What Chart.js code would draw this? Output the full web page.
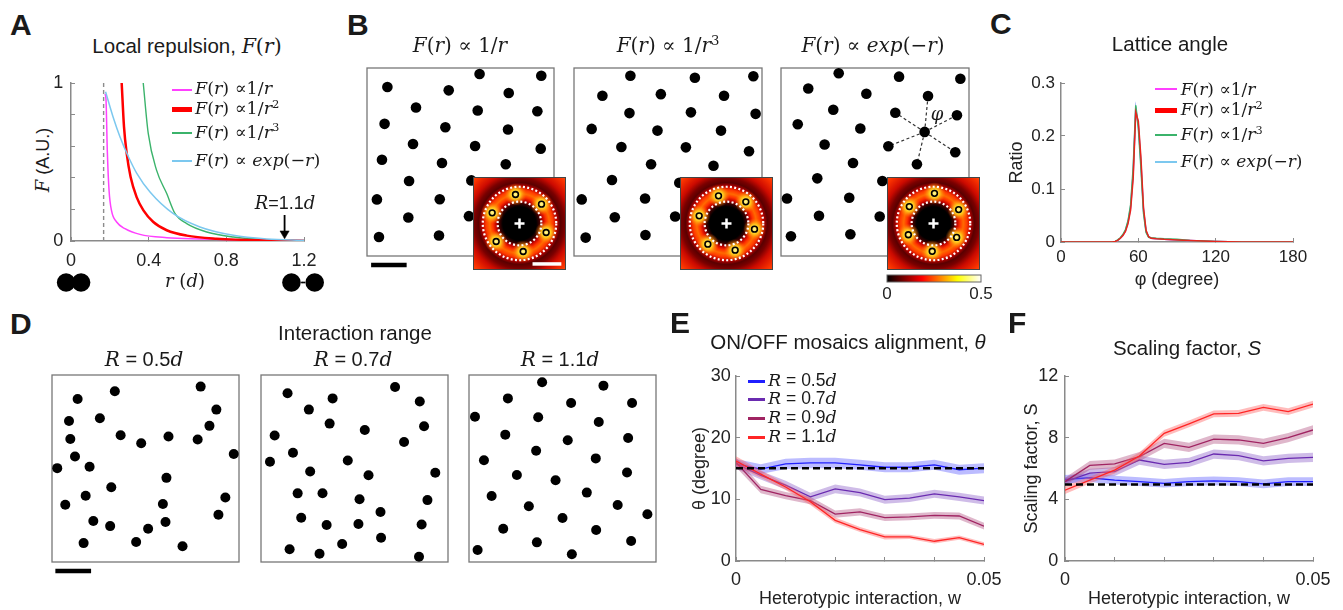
<!DOCTYPE html>
<html><head><meta charset="utf-8">
<script src="https://cdn.jsdelivr.net/npm/chart.js@4/dist/chart.umd.min.js"></script>
<style>
html,body{margin:0;padding:0;background:#fff;overflow:hidden;}
#fig{position:relative;width:1343px;height:610px;overflow:hidden;font-family:'Liberation Sans',Arial,sans-serif;color:#1a1a1a;}
.t{position:absolute;line-height:1;white-space:nowrap;}
.m{font-family:'DejaVu Serif',serif;font-style:normal;}
i.m,.m i{font-style:italic;}
.sp{font-size:0.66em;position:relative;top:-0.55em;}
.ls{position:absolute;}
canvas{position:absolute;}
</style></head><body><div id="fig"></div>
<script>
// ================= DATA =================
// Panel A: local repulsion curves F(r)
const aMagR = [0.175,0.180,0.187,0.196,0.209,0.235,0.278,0.355,0.493,0.664,0.922,1.2];
const aMagF = [0.93,0.90,0.57,0.32,0.19,0.12,0.078,0.042,0.021,0.013,0.006,0.002];
const aRedR = [0.261,0.273,0.287,0.307,0.338,0.373,0.424,0.493,0.596,0.750,1.008,1.2];
const aRedF = [1.0,0.722,0.553,0.405,0.278,0.194,0.120,0.068,0.034,0.015,0.004,0.002];
const aGrnR = [0.372,0.398,0.441,0.493,0.536,0.596,0.699,0.836,1.008,1.2];
const aGrnF = [1.0,0.679,0.447,0.300,0.173,0.110,0.057,0.025,0.008,0.002];
const aCyaR = [0.178,0.218,0.252,0.295,0.338,0.407,0.527,0.664,0.836,1.008,1.2];
const aCyaF = [0.945,0.78,0.66,0.535,0.43,0.31,0.173,0.089,0.036,0.013,0.004];
const aCoreR = 0.168;        // dashed line (cell body)
const aRangeR = 1.1;         // interaction range R
const aXTicks = [0,0.4,0.8,1.2], aXLabels = ['0','0.4','0.8','1.2'];
const aYTicks = [0,0.2,0.4,0.6,0.8,1], aYLabels = ['0','','','','','1'];
const aIconX = [-0.027,0.050,1.137,1.257];
const aIconGapX = [1.192,1.202];

// Panel B: cell positions (box units 0..1)
const b1X = [0.109,0.602,0.932,0.437,0.758,0.262,0.592,0.911,0.094,0.419,0.754,0.246,0.578,0.929,0.080,0.401,0.742,0.225,0.558,0.053,0.389,0.221,0.545,0.064,0.385];
const b1Y = [0.899,0.968,0.959,0.881,0.867,0.790,0.774,0.770,0.703,0.685,0.673,0.596,0.585,0.571,0.512,0.495,0.488,0.399,0.402,0.301,0.302,0.205,0.212,0.101,0.109];
const b2X = [0.300,0.643,0.954,0.151,0.462,0.798,0.295,0.622,0.966,0.094,0.444,0.782,0.252,0.595,0.931,0.410,0.742,0.202,0.560,0.041,0.378,0.217,0.538,0.062,0.380];
const b2Y = [0.959,0.948,0.956,0.852,0.861,0.852,0.760,0.764,0.756,0.676,0.667,0.667,0.580,0.578,0.557,0.488,0.480,0.404,0.390,0.301,0.306,0.206,0.210,0.098,0.112];
const b3X = [0.307,0.628,0.954,0.145,0.454,0.782,0.278,0.608,0.936,0.089,0.422,0.764,0.232,0.571,0.927,0.383,0.723,0.193,0.539,0.032,0.363,0.202,0.525,0.053,0.369];
const b3Y = [0.972,0.954,0.943,0.891,0.863,0.851,0.778,0.762,0.749,0.701,0.678,0.660,0.593,0.584,0.552,0.495,0.488,0.413,0.399,0.306,0.310,0.214,0.210,0.105,0.116];
const b3StarC = [0.764,0.660];
const b3StarX = [0.782,0.608,0.936,0.571,0.927,0.723];
const b3StarY = [0.851,0.762,0.749,0.584,0.552,0.488];
// autocorrelation insets: peak positions (inset units -1..1)
const i1X = [-0.086,0.473,0.573,0.079,-0.502,-0.588], i1Y = [0.624,0.416,-0.194,-0.602,-0.387,0.229];
const i2X = [-0.172,0.416,0.602,0.186,-0.401,-0.588], i2Y = [0.595,0.466,-0.122,-0.573,-0.444,0.165];
const i3X = [0.021,0.541,0.498,-0.028,-0.541,-0.520], i3Y = [0.648,0.299,-0.299,-0.598,-0.242,0.363];
const ringIn = 0.47, ringOut = 0.79;
const cbarTicks = [0,0.5], cbarLabels = ['0','0.5'];

// Panel C: lattice angle distribution
const cPhi = [0,20,40,42,44,46,48,50,52,54,56,58,60,62,64,66,68,70,74,80,90,100,110,120,140,160,180];
const cMag = [0,0,0,0.001,0.003,0.007,0.012,0.021,0.037,0.065,0.13,0.25,0.22,0.15,0.06,0.02,0.01,0.007,0.006,0.005,0.004,0.003,0.002,0.001,0,0,0];
const cRed = [0,0,0,0.001,0.003,0.007,0.012,0.020,0.035,0.060,0.12,0.245,0.228,0.16,0.065,0.022,0.010,0.007,0.006,0.005,0.004,0.003,0.002,0.001,0,0,0];
const cGrn = [0,0,0,0.001,0.004,0.008,0.014,0.023,0.040,0.070,0.14,0.258,0.215,0.14,0.055,0.018,0.009,0.008,0.007,0.006,0.005,0.003,0.002,0.001,0,0,0];
const cCya = [0,0,0,0.001,0.003,0.007,0.013,0.022,0.038,0.066,0.13,0.252,0.222,0.15,0.06,0.02,0.010,0.007,0.006,0.005,0.004,0.003,0.002,0.001,0,0,0];
const cXTicks = [0,60,120,180], cXLabels = ['0','60','120','180'];
const cYTicks = [0,0.1,0.2,0.3], cYLabels = ['0','0.1','0.2','0.3'];

// Panel D: cell positions for interaction ranges
const d1X = [0.336,0.795,0.137,0.879,0.091,0.256,0.842,0.098,0.367,0.477,0.623,0.779,0.972,0.123,0.028,0.201,0.612,0.317,0.180,0.927,0.071,0.593,0.890,0.221,0.311,0.514,0.607,0.169,0.450,0.698];
const d1Y = [0.913,0.938,0.872,0.815,0.754,0.769,0.728,0.658,0.678,0.635,0.671,0.655,0.578,0.564,0.502,0.509,0.450,0.400,0.354,0.345,0.306,0.310,0.253,0.219,0.192,0.178,0.214,0.101,0.107,0.084];
const d2X = [0.142,0.383,0.717,0.256,0.849,0.367,0.555,0.872,0.073,0.765,0.171,0.048,0.464,0.263,0.575,0.932,0.196,0.329,0.527,0.890,0.639,0.215,0.351,0.521,0.859,0.434,0.642,0.153,0.313,0.845];
const d2Y = [0.902,0.875,0.936,0.815,0.858,0.740,0.706,0.726,0.676,0.642,0.584,0.536,0.543,0.484,0.464,0.477,0.367,0.368,0.336,0.331,0.267,0.237,0.198,0.203,0.201,0.096,0.130,0.068,0.044,0.028];
const d3X = [0.391,0.719,0.208,0.546,0.872,0.032,0.370,0.694,0.194,0.528,0.851,0.359,0.080,0.678,0.256,0.463,0.845,0.630,0.121,0.320,0.795,0.954,0.500,0.183,0.680,0.363,0.867,0.046,0.550];
const d3Y = [0.961,0.943,0.875,0.850,0.850,0.777,0.774,0.749,0.681,0.651,0.663,0.595,0.544,0.554,0.465,0.437,0.479,0.371,0.353,0.298,0.305,0.255,0.235,0.178,0.171,0.105,0.112,0.064,0.041];

// Panels E/F: heterotypic interaction sweep
const wVals = [0,0.005,0.01,0.015,0.02,0.025,0.03,0.035,0.04,0.045,0.05];
const eTheta05 = [15.75,14.9,15.75,15.9,15.9,15.6,15.2,15.2,15.6,14.8,15.05];
const eTheta07 = [15.75,13.9,12.3,10.4,11.7,11.1,9.95,10.2,10.9,10.4,9.8];
const eTheta09 = [16.0,11.6,10.6,9.8,7.6,7.96,7.04,7.15,7.4,7.3,5.65];
const eTheta11 = [16.2,14.1,12.0,9.6,6.6,5.1,3.9,3.9,3.2,3.8,2.7];
const eErr05 = [0.8,0.8,0.85,0.85,0.85,0.8,0.8,0.8,0.8,0.8,0.8];
const eErr07 = [0.8,0.7,0.7,0.65,0.7,0.65,0.65,0.65,0.65,0.65,0.65];
const eErr09 = [0.8,0.6,0.6,0.6,0.6,0.6,0.55,0.55,0.55,0.55,0.55];
const eErr11 = [0.8,0.6,0.5,0.5,0.45,0.4,0.4,0.35,0.35,0.35,0.35];
const eRandom = 15.05;
const fS05 = [5.3,5.4,5.25,5.15,5.04,5.15,5.2,5.15,5.0,5.15,5.15];
const fS07 = [5.15,5.7,5.8,6.55,6.27,6.4,6.94,6.83,6.5,6.66,6.72];
const fS09 = [5.15,6.2,6.3,6.77,7.63,7.37,7.9,7.85,7.63,8.0,8.5];
const fS11 = [4.6,5.25,5.9,6.81,8.28,8.89,9.54,9.58,9.97,9.69,10.18];
const fErr05 = [0.28,0.28,0.28,0.28,0.28,0.28,0.28,0.28,0.28,0.28,0.28];
const fErr07 = [0.25,0.28,0.28,0.3,0.3,0.3,0.3,0.3,0.3,0.3,0.3];
const fErr09 = [0.25,0.28,0.28,0.3,0.3,0.3,0.3,0.3,0.3,0.3,0.3];
const fErr11 = [0.25,0.22,0.22,0.22,0.22,0.22,0.22,0.22,0.22,0.22,0.22];
const fRandom = 4.97;
const wTicks = [0,0.01,0.02,0.03,0.04,0.05], wLabels = ['0','','','','','0.05'];
const eYTicks = [0,10,20,30], eYLabels = ['0','10','20','30'];
const fYTicks = [0,4,8,12], fYLabels = ['0','4','8','12'];
const rangeNames = ['0.5','0.7','0.9','1.1'];

// ================= HELPERS =================
Chart.defaults.font.family = "'Liberation Sans', Arial, sans-serif";
Chart.defaults.color = '#222';
const fig = document.getElementById('fig');
const zip = (xs, ys) => xs.map((x, i) => ({x, y: ys[i]}));
const AX = '#8a8a8a';

function canvasAt(p, m, z) {
  const c = document.createElement('canvas');
  const w = Math.round(p.r - p.l + m.l + m.r), h = Math.round(p.b - p.t + m.t + m.b);
  c.width = w; c.height = h;
  c.style.cssText = `left:${p.l - m.l}px;top:${p.t - m.t}px;width:${w}px;height:${h}px;z-index:${z || 1}`;
  fig.appendChild(c);
  return c;
}
function zeroPad(s){ s.paddingLeft = s.paddingRight = s.paddingTop = s.paddingBottom = 0; }
function axis(kind, o) {
  return {
    type: 'linear', min: o.min, max: o.max,
    afterBuildTicks: s => { s.ticks = o.ticks.map(v => ({value: v})); },
    afterFit: s => { if (kind === 'x') s.height = o.size; else s.width = o.size; zeroPad(s); },
    grid: {display: true, drawOnChartArea: false, drawTicks: o.tl !== 0, tickLength: o.tl === undefined ? -4 : o.tl, color: AX, lineWidth: 1},
    border: {display: o.border !== false, color: AX, width: 1.5},
    ticks: {autoSkip: false, maxRotation: 0, minRotation: 0, padding: o.pad, color: '#222', font: {size: o.fs || 18},
            callback: (v, i) => o.labels[i]},
    title: o.title ? {display: true, text: o.title, color: '#222', font: {size: 18}, padding: 0} : {display: false}
  };
}
function baseOpts(pad, scales, plugins) {
  return {responsive: false, animation: false, devicePixelRatio: 1, layout: {padding: pad, autoPadding: false},
    elements: {point: {radius: 0}, line: {tension: 0}},
    plugins: Object.assign({legend: {display: false}, tooltip: {enabled: false}}, plugins || {}),
    scales};
}
function txt(html, x, base, fs, o) {
  o = o || {};
  const d = document.createElement('div');
  d.className = 't';
  d.innerHTML = html;
  d.style.fontSize = fs + 'px';
  d.style.top = (base - 0.846 * fs) + 'px';
  d.style.left = x + 'px';
  if (o.center) d.style.transform = 'translateX(-50%)';
  if (o.bold) d.style.fontWeight = 'bold';
  d.style.zIndex = 6;
  fig.appendChild(d);
}
function vtxt(html, cx, cy, fs) {
  const d = document.createElement('div');
  d.className = 't'; d.innerHTML = html; d.style.fontSize = fs + 'px';
  d.style.left = cx + 'px'; d.style.top = cy + 'px';
  d.style.transform = 'translate(-50%,-50%) rotate(-90deg)';
  fig.appendChild(d);
}
function legend(rows, x0, x1, tx, fs) {
  rows.forEach(r => {
    const s = document.createElement('div');
    s.className = 'ls';
    s.style.cssText = `left:${Math.round(x0)}px;width:${Math.round(x1 - x0)}px;top:${Math.round(r.y - r.w / 2)}px;height:${r.w}px;background:${r.c};z-index:6`;
    fig.appendChild(s);
    txt(r.html, tx, r.y + 0.33 * fs, fs);
  });
}

// ----- plugins -----
const framePlugin = {
  id: 'frame',
  beforeDatasetsDraw(chart, a, o) {
    const {ctx, chartArea: c, scales: {x}} = chart;
    ctx.save();
    ctx.strokeStyle = '#777'; ctx.lineWidth = 1.3;
    ctx.strokeRect(c.left, c.top, c.width, c.height);
    if (o && o.bar) {
      const yy = c.bottom + o.bar.dy;
      ctx.strokeStyle = '#000'; ctx.lineWidth = o.bar.w;
      ctx.beginPath();
      ctx.moveTo(x.getPixelForValue(o.bar.x0), yy); ctx.lineTo(x.getPixelForValue(o.bar.x1), yy);
      ctx.stroke();
    }
    ctx.restore();
  }
};
const HEAT = [[0,'#000000'],[0.36,'#000000'],[0.43,'#3a0000'],[0.5,'#c00000'],[0.57,'#ff3000'],[0.64,'#ff6a00'],[0.72,'#ff3a00'],[0.8,'#b80000'],[0.88,'#5a0000'],[0.97,'#7a0000'],[1.1,'#cc0a00'],[1.3,'#f83000'],[1.45,'#ff5a10']];
const heatPlugin = {
  id: 'heat',
  beforeDatasetsDraw(chart, a, o) {
    const {ctx, chartArea: c, scales: {x, y}} = chart;
    const cx = x.getPixelForValue(0), cy = y.getPixelForValue(0);
    const u = x.getPixelForValue(1) - cx;
    ctx.save();
    ctx.beginPath(); ctx.rect(c.left, c.top, c.width, c.height); ctx.clip();
    const g = ctx.createRadialGradient(cx, cy, 0, cx, cy, 1.45 * u);
    HEAT.forEach(([r, col]) => g.addColorStop(r / 1.45, col));
    ctx.fillStyle = g; ctx.fillRect(c.left, c.top, c.width, c.height);
    o.px.forEach((px, i) => {
      const X = x.getPixelForValue(px), Y = y.getPixelForValue(o.py[i]), R = 0.24 * u;
      const rg = ctx.createRadialGradient(X, Y, 0, X, Y, R);
      rg.addColorStop(0, 'rgba(255,252,150,1)'); rg.addColorStop(0.45, 'rgba(255,215,30,0.85)'); rg.addColorStop(1, 'rgba(255,120,0,0)');
      ctx.fillStyle = rg; ctx.fillRect(X - R, Y - R, 2 * R, 2 * R);
    });
    ctx.strokeStyle = '#fff'; ctx.lineWidth = 2.2; ctx.setLineDash([2, 2.3]);
    [o.rIn, o.rOut].forEach(r => { ctx.beginPath(); ctx.arc(cx, cy, r * u, 0, Math.PI * 2); ctx.stroke(); });
    ctx.setLineDash([]);
    if (o.bar) {
      ctx.strokeStyle = '#fff'; ctx.lineWidth = 3.5; ctx.beginPath();
      ctx.moveTo(x.getPixelForValue(o.bar.x0), y.getPixelForValue(o.bar.y));
      ctx.lineTo(x.getPixelForValue(o.bar.x1), y.getPixelForValue(o.bar.y)); ctx.stroke();
    }
    ctx.restore();
  },
  afterDraw(chart) {
    const {ctx, chartArea: c} = chart;
    ctx.save(); ctx.strokeStyle = '#444'; ctx.lineWidth = 1;
    ctx.strokeRect(c.left + 0.5, c.top + 0.5, c.width - 1, c.height - 1); ctx.restore();
  }
};
const cbarPlugin = {
  id: 'cbar',
  beforeDatasetsDraw(chart) {
    const {ctx, chartArea: c} = chart;
    const g = ctx.createLinearGradient(c.left, 0, c.right, 0);
    [[0,'#000000'],[0.375,'#ff0000'],[0.75,'#ffff00'],[1,'#ffffff']].forEach(([t, col]) => g.addColorStop(t, col));
    ctx.save(); ctx.fillStyle = g; ctx.fillRect(c.left, c.top, c.width, c.height);
    ctx.strokeStyle = '#666'; ctx.lineWidth = 1; ctx.strokeRect(c.left, c.top, c.width, c.height); ctx.restore();
  }
};

// ================= PANEL A =================
{
  const p = {l: 71, r: 304, t: 83, b: 241}, m = {l: 40, r: 22, t: 12, b: 30};
  const cv = canvasAt(p, m, 2);
  const L = (xs, ys, col, w, ord) => ({data: zip(xs, ys), borderColor: col, borderWidth: w, pointRadius: 0, cubicInterpolationMode: 'monotone', order: ord});
  new Chart(cv, {type: 'line', data: {datasets: [
    L(aMagR, aMagF, '#ff40ff', 1.5, 4),
    L(aRedR, aRedF, '#ff0000', 2.5, 2),
    L(aGrnR, aGrnF, '#3bb36b', 1.4, 3),
    L(aCyaR, aCyaF, '#7cc8ef', 1.5, 1),
    {data: [{x: aCoreR, y: 0}, {x: aCoreR, y: 1}], borderColor: '#8c8c8c', borderWidth: 1.4, borderDash: [4, 3], pointRadius: 0, order: 5},
    {data: [{x: aRangeR, y: 0.165}, {x: aRangeR, y: 0.06}], borderColor: '#000', borderWidth: 1.8, pointRadius: 0, order: 0},
    {data: [{x: aRangeR, y: 0.047}], showLine: false, pointStyle: 'triangle', pointRotation: 180, pointRadius: 5.3, pointBackgroundColor: '#000', pointBorderColor: '#000', pointBorderWidth: 0.5, order: 0}
  ]}, options: baseOpts({top: m.t, right: m.r, left: 0, bottom: 0}, {
    x: axis('x', {min: 0, max: 1.2, ticks: aXTicks, labels: aXLabels, size: m.b, pad: 13}),
    y: axis('y', {min: 0, max: 1, ticks: aYTicks, labels: aYLabels, size: m.l, pad: 11.7})
  })});
  // schematic cells under the r axis
  const pi = {l: 52, r: 323, t: 272, b: 293};
  const ci = canvasAt(pi, {l: 12, r: 12, t: 4, b: 4}, 2);
  new Chart(ci, {type: 'scatter', data: {datasets: [
    {data: aIconX.map(x => ({x, y: 0})), pointRadius: 9.3, pointBackgroundColor: '#000', pointBorderWidth: 0, clip: false},
    {data: aIconGapX.map(x => ({x, y: 0})), pointRadius: 1.1, pointBackgroundColor: '#000', pointBorderWidth: 0, clip: false}
  ]}, options: baseOpts({left: 12, right: 12, top: 4, bottom: 4}, {
    x: {type: 'linear', min: -0.1, max: 1.3, display: false}, y: {type: 'linear', min: -1, max: 1, display: false}
  })});
}

// ================= PANEL B =================
function dotBox(p, xs, ys, r, extra, bar) {
  const pad = 14;
  const cv = canvasAt(p, {l: pad, r: pad, t: pad, b: pad}, 1);
  const ds = [{data: zip(xs, ys), pointRadius: r, pointBackgroundColor: '#000', pointBorderWidth: 0, clip: false, order: 0}].concat(extra || []);
  new Chart(cv, {type: 'scatter', data: {datasets: ds},
    options: baseOpts(pad, {x: {type: 'linear', min: 0, max: 1, display: false}, y: {type: 'linear', min: 0, max: 1, display: false}}, {frame: {bar}}),
    plugins: [framePlugin]});
}
function inset(p, px, py, bar) {
  const cv = canvasAt(p, {l: 0, r: 0, t: 0, b: 0}, 4);
  new Chart(cv, {type: 'scatter', data: {datasets: [
    {data: zip(px, py), pointRadius: 2.9, pointBorderWidth: 1.6, pointBorderColor: '#000', pointBackgroundColor: 'rgba(0,0,0,0)'},
    {data: [{x: 0, y: 0}], pointStyle: 'cross', pointRadius: 5, pointBorderWidth: 2.5, pointBorderColor: '#fff'}
  ]}, options: baseOpts(0, {x: {type: 'linear', min: -1, max: 1, display: false}, y: {type: 'linear', min: -1, max: 1, display: false}},
     {heat: {px, py, rIn: ringIn, rOut: ringOut, bar}}), plugins: [heatPlugin]});
}
dotBox({l: 367, r: 554, t: 68, b: 256}, b1X, b1Y, 5.3, [], {x0: 0.022, x1: 0.212, dy: 9, w: 4.5});
dotBox({l: 574, r: 762, t: 68, b: 256}, b2X, b2Y, 5.3);
const star = b3StarX.map((x, i) => ({data: [{x: b3StarC[0], y: b3StarC[1]}, {x, y: b3StarY[i]}], showLine: true, borderColor: '#333', borderWidth: 1.2, borderDash: [3, 2.5], pointRadius: 0, order: 1}));
dotBox({l: 781, r: 969, t: 68, b: 256}, b3X, b3Y, 5.3, star);
inset({l: 473, r: 566, t: 177, b: 270}, i1X, i1Y, {x0: 0.28, x1: 0.90, y: -0.87});
inset({l: 680, r: 773, t: 177, b: 270}, i2X, i2Y);
inset({l: 887, r: 980, t: 177, b: 270}, i3X, i3Y);
{
  const p = {l: 887, r: 981, t: 275, b: 282}, m = {l: 8, r: 16, t: 2, b: 30};
  const cv = canvasAt(p, m, 4);
  new Chart(cv, {type: 'line', data: {datasets: [{data: []}]}, options: baseOpts({left: m.l, right: m.r, top: m.t, bottom: 0}, {
    x: axis('x', {min: 0, max: 0.5, ticks: cbarTicks, labels: cbarLabels, size: m.b, pad: 2.5, tl: 0, border: false, fs: 17}),
    y: {type: 'linear', min: 0, max: 1, display: false}
  }), plugins: [cbarPlugin]});
}

// ================= PANEL C =================
{
  const p = {l: 1061, r: 1293, t: 83, b: 242}, m = {l: 55, r: 25, t: 12, b: 49};
  const cv = canvasAt(p, m, 2);
  const L = (ys, col, ord) => ({data: zip(cPhi, ys), borderColor: col, borderWidth: 1.5, pointRadius: 0, order: ord});
  new Chart(cv, {type: 'line', data: {datasets: [
    L(cMag, '#ff40ff', 4), L(cCya, '#7cc8ef', 3), L(cGrn, '#3bb36b', 2), L(cRed, '#e8241c', 1)
  ]}, options: baseOpts({top: m.t, right: m.r, left: 0, bottom: 0}, {
    x: axis('x', {min: 0, max: 180, ticks: cXTicks, labels: cXLabels, size: m.b, pad: 9.6, fs: 17, title: 'φ (degree)'}),
    y: axis('y', {min: 0, max: 0.3, ticks: cYTicks, labels: cYLabels, size: m.l, pad: 10, fs: 17, title: 'Ratio'})
  })});
}

// ================= PANEL D =================
dotBox({l: 52, r: 239, t: 375, b: 562}, d1X, d1Y, 5.0, [], {x0: 0.018, x1: 0.209, dy: 9, w: 4.3});
dotBox({l: 261, r: 448, t: 375, b: 562}, d2X, d2Y, 5.0);
dotBox({l: 469, r: 656, t: 375, b: 562}, d3X, d3Y, 5.0);

// ================= PANELS E & F =================
const lineCols = ['#1f1fff', '#6a2bb0', '#a02462', '#ff2626'];
const bandCols = ['rgba(95,95,255,0.42)', 'rgba(140,95,200,0.42)', 'rgba(175,75,125,0.40)', 'rgba(255,95,95,0.42)'];
function bandSets(mean, err, k) {
  const ord = 4 - k;
  return [
    {data: wVals.map((x, i) => ({x, y: mean[i] + err[i]})), borderColor: 'rgba(0,0,0,0)', borderWidth: 0, pointRadius: 0, backgroundColor: bandCols[k], fill: '+1', order: ord + 0.5},
    {data: wVals.map((x, i) => ({x, y: mean[i] - err[i]})), borderColor: 'rgba(0,0,0,0)', borderWidth: 0, pointRadius: 0, fill: false, order: ord + 0.5},
    {data: zip(wVals, mean), borderColor: lineCols[k], borderWidth: 1.3, pointRadius: 0, fill: false, order: ord}
  ];
}
function sweepChart(p, m, means, errs, ref, yo) {
  const cv = canvasAt(p, m, 2);
  let ds = [];
  means.forEach((mn, k) => { ds = ds.concat(bandSets(mn, errs[k], k)); });
  ds.push({data: [{x: 0, y: ref}, {x: 0.05, y: ref}], borderColor: '#000', borderWidth: 2.5, borderDash: [7, 4], pointRadius: 0, fill: false, order: 0});
  new Chart(cv, {type: 'line', data: {datasets: ds}, options: baseOpts({top: m.t, right: m.r, left: 0, bottom: 0}, {
    x: axis('x', {min: 0, max: 0.05, ticks: wTicks, labels: wLabels, size: m.b, pad: 12.2, title: 'Heterotypic interaction, w'}),
    y: axis('y', yo)
  })});
}
sweepChart({l: 736, r: 984, t: 376, b: 561}, {l: 47, r: 22, t: 12, b: 49},
  [eTheta05, eTheta07, eTheta09, eTheta11], [eErr05, eErr07, eErr09, eErr11], eRandom,
  {min: 0, max: 30, ticks: eYTicks, labels: eYLabels, size: 47, pad: 9.3, title: 'θ (degree)'});
sweepChart({l: 1065, r: 1313, t: 376, b: 561}, {l: 44, r: 26, t: 12, b: 49},
  [fS05, fS07, fS09, fS11], [fErr05, fErr07, fErr09, fErr11], fRandom,
  {min: 0, max: 12, ticks: fYTicks, labels: fYLabels, size: 44, pad: 10.7, title: 'Scaling factor, S'});

// ================= TEXT =================
[['A', 10, 35], ['B', 347, 35], ['C', 990, 34], ['D', 10, 334], ['E', 670, 333], ['F', 1008, 333]]
  .forEach(([s, x, b]) => txt(s, x, b, 30, {bold: true}));
const Fr = '<span class="m"><i>F</i>(<i>r</i>)</span>';
txt('Local repulsion, ' + Fr, 187, 53, 20.5, {center: true});
txt('<span class="m"><i>F</i>(<i>r</i>) ∝ 1/<i>r</i></span>', 460, 52, 20, {center: true});
txt('<span class="m"><i>F</i>(<i>r</i>) ∝ 1/<i>r</i><span class="sp">3</span></span>', 668, 52, 20, {center: true});
txt('<span class="m"><i>F</i>(<i>r</i>) ∝ <i>exp</i>(−<i>r</i>)</span>', 873, 52, 20, {center: true});
txt('Lattice angle', 1170, 51.5, 20.5, {center: true});
txt('Interaction range', 355, 340, 20.5, {center: true});
[[144, '0.5'], [353, '0.7'], [560, '1.1']].forEach(([x, v]) =>
  txt('<i class="m">R</i> = ' + v + '<i class="m">d</i>', x, 366, 20, {center: true}));
txt('ON/OFF mosaics alignment, <i>θ</i>', 848, 349, 20.5, {center: true});
txt('Scaling factor, <i>S</i>', 1187, 355, 20.5, {center: true});
vtxt('<i class="m">F</i> (A.U.)', 43, 160, 18);
txt('<span class="m"><i>r</i> (<i>d</i>)</span>', 185, 287, 18, {center: true});
txt('<i class="m">R</i>=1.1<i class="m">d</i>', 285, 209, 18, {center: true});
txt('<i class="m">φ</i>', 937, 120, 18, {center: true});

const legRows = (ys, ws) => [
  {y: ys[0], w: ws[0], c: '#ff40ff', html: '<span class="m"><i>F</i>(<i>r</i>) ∝1/<i>r</i></span>'},
  {y: ys[1], w: ws[1], c: '#ff0000', html: '<span class="m"><i>F</i>(<i>r</i>) ∝1/<i>r</i><span class="sp">2</span></span>'},
  {y: ys[2], w: ws[2], c: '#3bb36b', html: '<span class="m"><i>F</i>(<i>r</i>) ∝1/<i>r</i><span class="sp">3</span></span>'},
  {y: ys[3], w: ws[3], c: '#7cc8ef', html: '<span class="m"><i>F</i>(<i>r</i>) ∝ <i>exp</i>(−<i>r</i>)</span>'}
];
legend(legRows([89.5, 109, 132.7, 161], [2, 5, 2, 2]), 171.7, 191.7, 195, 17.5);
legend(legRows([89.3, 110, 135, 161.7], [2, 5, 2, 2]), 1155, 1176.7, 1180.7, 17);
legend(rangeNames.map((v, k) => ({y: [381, 399.3, 418.3, 437.3][k], w: 3, c: lineCols[k],
  html: '<i class="m">R</i> = ' + v + '<i class="m">d</i>'})), 748, 765, 768, 17.5);
</script></body></html>
